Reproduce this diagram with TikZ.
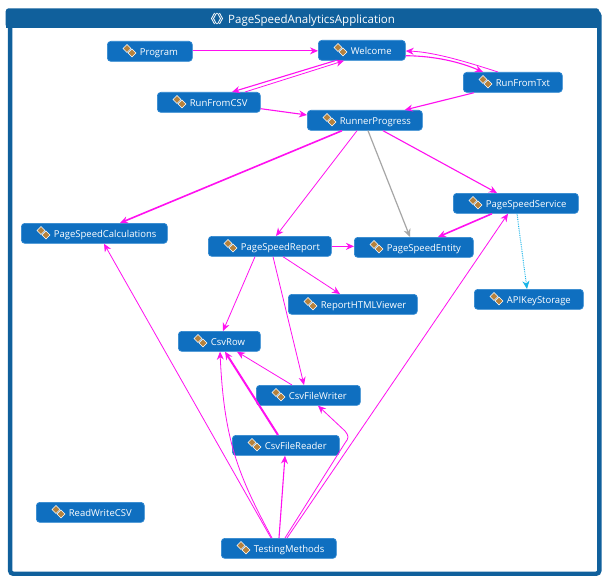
\documentclass[tikz,border=0pt]{standalone}
\usepackage{fontspec}
\setmainfont{Open Sans}
\usetikzlibrary{arrows.meta}
\definecolor{frameblue}{HTML}{10609C}
\definecolor{nodeblue}{HTML}{0F6FC0}
\definecolor{nodeedge}{HTML}{2C86D0}
\definecolor{linkmag}{HTML}{FF10F0}
\definecolor{iconbrown}{HTML}{B5813C}
\definecolor{linkcyan}{HTML}{18B4E8}
\tikzset{
  clsbox/.style={draw=nodeedge, line width=0.7pt, fill=nodeblue, rounded corners=3.5pt, inner sep=0pt, text=white, font=\fontsize{9.5}{12}\selectfont, text height=8pt, text depth=0pt, anchor=north west},
  link/.style={draw=linkmag, line width=0.8pt, -{Stealth[length=8pt,width=7pt]}},
  linkbold/.style={link, line width=1.6pt},
  linkmid/.style={link, line width=1.1pt},
  linkgray/.style={link, draw=black!35, line width=1.2pt},
  linkdot/.style={link, draw=linkcyan, densely dotted, line width=1pt},
  clsicon/.pic={
    \fill[iconbrown, draw=white, line width=0.6pt] (-6.5,-2.5) -- (-2.5,-6.5) -- (1.5,-2.5) -- (-2.5,1.5) -- cycle;
    \fill[iconbrown, draw=white, line width=0.6pt] (-1.5,2) -- (2.5,-2) -- (6.5,2) -- (2.5,6) -- cycle;
  }
}
\newcommand{\clsnode}[5]{% name, left, right, top, text
  \pgfmathsetmacro{\nw}{#3-#2}
  \node[clsbox, minimum width=\nw pt, minimum height=20pt] (#1) at (#2,#4)
    {\makebox[\nw pt][l]{\hspace{32.5pt}#5}};
  \pic at (#2+22.5,#4+10) {clsicon};
}
\begin{document}
\begin{tikzpicture}[x=1pt,y=-1pt]
\useasboundingbox (0,0) rectangle (607,583);
\fill[white] (0,0) rectangle (607,583);
\node[draw=frameblue, line width=4.4pt, rounded corners=3pt, minimum width=589.2pt, minimum height=561pt, anchor=north west, inner sep=0pt] (frame) at (7.9,10.5) {};
\fill[frameblue, rounded corners=3pt] (5.7,8.3) rectangle (599.3,28);
\fill[frameblue] (5.7,20) rectangle (599.3,28);
\node[text=white, font=\fontsize{11.5}{14}\selectfont, text height=10pt, text depth=0pt, anchor=west, inner sep=0pt] (title) at (228,18.5) {PageSpeedAnalyticsApplication};
\draw[white, line width=0.8pt, line join=round] (214.5,13) -- (211.5,18.5) -- (214.5,24) (216.5,13) -- (213.5,18.5) -- (216.5,24)
  (217.5,13) -- (220.5,18.5) -- (217.5,24) (219.5,13) -- (222.5,18.5) -- (219.5,24);

\clsnode{program}{107}{192}{41}{Program}
\clsnode{welcome}{318}{405}{40}{Welcome}
\clsnode{runtxt}{463}{562}{72}{RunFromTxt}
\clsnode{runcsv}{157}{260}{92}{RunFromCSV}
\clsnode{runner}{307}{422}{110}{RunnerProgress}
\clsnode{service}{453}{578}{193}{PageSpeedService}
\clsnode{calc}{21}{167}{223}{PageSpeedCalculations}
\clsnode{report}{208}{331}{236}{PageSpeedReport}
\clsnode{entity}{354}{473}{237}{PageSpeedEntity}
\clsnode{viewer}{288}{417}{294}{ReportHTMLViewer}
\clsnode{apikey}{474}{583}{289}{APIKeyStorage}
\clsnode{csvrow}{178}{260}{331}{CsvRow}
\clsnode{writer}{256}{360}{385}{CsvFileWriter}
\clsnode{reader}{232}{339}{435}{CsvFileReader}
\clsnode{readwrite}{36}{144}{502}{ReadWriteCSV}
\clsnode{testing}{221}{336}{538}{TestingMethods}

\draw[link] ([yshift=0.5pt]program.east) -- ([yshift=0.5pt]welcome.west |- program.east);
\draw[linkmid] ([xshift=17pt]welcome.south west) -- ([xshift=75pt]runcsv.north west);
\draw[link] ([xshift=88pt]runcsv.north west) -- ([xshift=26pt]welcome.south west);
\draw[linkmid] ([yshift=4pt]runcsv.south east) -- ([yshift=-5pt]runner.north west);
\draw[linkmid] ([yshift=5pt]welcome.south east) .. controls (435,56) and (460,62) .. ([xshift=20pt]runtxt.north west);
\draw[link] ([xshift=35pt]runtxt.north west) .. controls (470,63) and (435,52) .. ([yshift=-11pt]welcome.north east);
\draw[linkmid] ([xshift=11pt]runtxt.south west) -- ([xshift=-18pt]runner.north east);
\draw[linkbold] ([xshift=35pt]runner.south west) -- ([xshift=99pt]calc.north west);
\draw[link] ([xshift=50pt]runner.south west) -- ([xshift=68pt]report.north west);
\draw[linkgray] ([xshift=61pt]runner.south west) -- ([xshift=56pt]entity.north west);
\draw[linkmid] ([xshift=76pt]runner.south west) -- ([xshift=44pt]service.north west);
\draw[linkbold] ([xshift=39pt]service.south west) -- ([xshift=84pt]entity.north west);
\draw[linkbold] (report.east) -- (entity.west |- report.east);
\draw[linkdot] ([xshift=64pt]service.south west) -- ([xshift=53pt]apikey.north west);
\draw[link] ([xshift=75pt]report.south west) -- ([xshift=52pt]viewer.north west);
\draw[link] ([xshift=47pt]report.south west) -- ([xshift=45pt]csvrow.north west);
\draw[link] ([xshift=65pt]report.south west) -- ([xshift=48pt]writer.north west);
\draw[link] ([xshift=36pt]writer.north west) -- ([xshift=59pt]csvrow.south west);
\draw[linkbold, line width=2pt] ([xshift=46pt]reader.north west) -- ([xshift=47pt]csvrow.south west);
\draw[link] ([xshift=51pt]testing.north west) .. controls (238,475) and (224,440) .. ([xshift=42pt]csvrow.south west);
\draw[link] ([xshift=50pt]testing.north west) -- ([xshift=83pt]calc.south west);
\draw[linkmid] ([xshift=58pt]testing.north west) -- ([xshift=53pt]reader.south west);
\draw[link] ([xshift=64pt]testing.north west) -- (345,443) .. controls (349,438) and (349,436) .. (345,431) -- ([xshift=62pt]writer.south west);
\draw[link] ([xshift=66pt]testing.north west) -- ([xshift=55pt]service.south west);
\end{tikzpicture}
\end{document}
